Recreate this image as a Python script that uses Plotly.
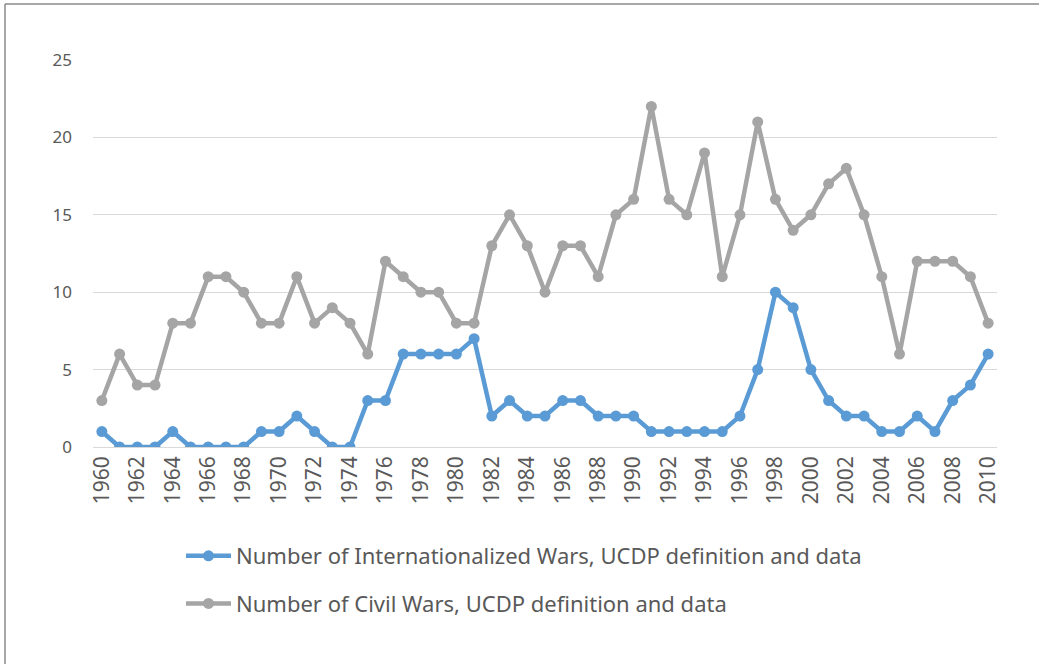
import plotly.graph_objects as go

years = list(range(1960, 2011))
internationalized = [1, 0, 0, 0, 1, 0, 0, 0, 0, 1, 1, 2, 1, 0, 0, 3, 3, 6, 6, 6, 6, 7,
                     2, 3, 2, 2, 3, 3, 2, 2, 2, 1, 1, 1, 1, 1, 2, 5, 10, 9, 5, 3, 2, 2,
                     1, 1, 2, 1, 3, 4, 6]
civil = [3, 6, 4, 4, 8, 8, 11, 11, 10, 8, 8, 11, 8, 9, 8, 6, 12, 11, 10, 10, 8, 8,
         13, 15, 13, 10, 13, 13, 11, 15, 16, 22, 16, 15, 19, 11, 15, 21, 16, 14, 15,
         17, 18, 15, 11, 6, 12, 12, 12, 11, 8]
tick_years = list(range(1960, 2011, 2))
y_ticks = [0, 5, 10, 15, 20, 25]

names = ["Number of Internationalized Wars, UCDP definition and data",
         "Number of Civil Wars, UCDP definition and data"]
colors = ["#5B9BD5", "#A5A5A5"]

fig = go.Figure()
for i, (vals, name, col) in enumerate(zip([internationalized, civil], names, colors)):
    fig.add_trace(go.Scatter(
        x=years, y=vals, name=name, mode="lines+markers",
        line=dict(color=col, width=4.5),
        marker=dict(color=col, size=11),
        legendgroup=f"g{i}",
    ))

W, H = 1039, 664
L, R, T, B = 93, 42, 60, 217
pw, ph = W - L - R, H - T - B

def px_x(x):
    return (x - L) / pw

def px_y(y):
    return (H - B - y) / ph

fig.update_layout(
    width=W, height=H,
    margin=dict(l=L, r=R, t=T, b=B),
    paper_bgcolor="white", plot_bgcolor="white",
    font=dict(family="Noto Sans, Open Sans, sans-serif", color="#595959", size=18),
    showlegend=True,
    legend=dict(
        x=px_x(181), y=px_y(535), xanchor="left", yanchor="top",
        orientation="v", traceorder="grouped", tracegroupgap=16,
        font=dict(size=22, color="#595959"), itemwidth=45,
        bgcolor="rgba(0,0,0,0)",
    ),
    xaxis=dict(
        range=[1959.5, 2010.5], tickvals=tick_years,
        ticktext=[str(y) for y in tick_years], tickangle=-90,
        showgrid=False, zeroline=False, showline=False, ticks="",
        ticklabelstandoff=4,
        tickfont=dict(size=21, color="#595959"),
    ),
    yaxis=dict(
        range=[0, 25], tickvals=y_ticks, showgrid=True, gridcolor="#D9D9D9",
        gridwidth=1, zeroline=True, zerolinecolor="#D9D9D9", zerolinewidth=1,
        ticks="", ticklabelstandoff=20,
        tickfont=dict(size=17, color="#595959"),
    ),
    shapes=[
        dict(type="line", xref="paper", yref="paper",
             x0=px_x(5), x1=px_x(1045), y0=px_y(4), y1=px_y(4),
             line=dict(color="#8a8a8a", width=1.5)),
        dict(type="line", xref="paper", yref="paper",
             x0=px_x(5), x1=px_x(5), y0=px_y(4), y1=px_y(670),
             line=dict(color="#8a8a8a", width=1.5)),
    ],
)

fig.write_html("out.html", config={"displayModeBar": False},
               post_script="document.body.style.margin='0';document.body.style.overflow='hidden';")
